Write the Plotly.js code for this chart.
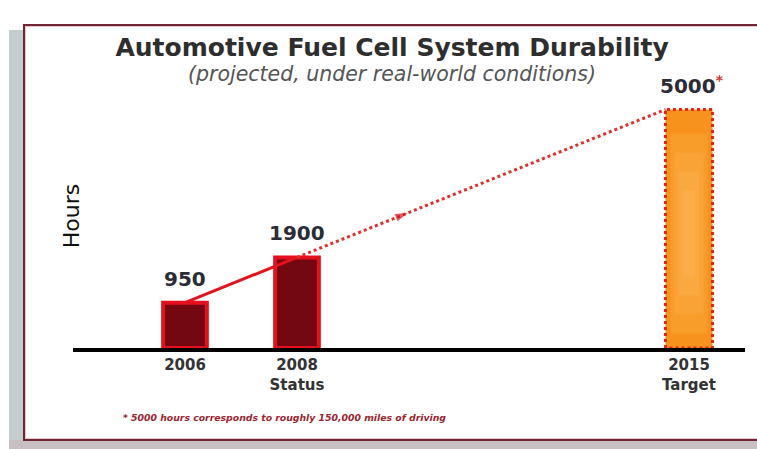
<!DOCTYPE html>
<html>
<head>
<meta charset="utf-8">
<script src="https://cdn.plot.ly/plotly-3.0.1.min.js"></script>
<style>
  html, body { margin: 0; padding: 0; width: 757px; height: 449px; overflow: hidden; background: #ffffff; }
  #shadowL { position: absolute; left: 9px; top: 30px; width: 16px; height: 419px; background: #c3cdcd; }
  #shadowB { position: absolute; left: 9px; top: 440px; width: 760px; height: 9px; background: #c8bfc2; }
  #frame { position: absolute; left: 23px; top: 24px; width: 760px; height: 413px; border: 2px solid #6e2733;
           background: #ffffff; box-shadow: inset 0 0 0 1px #ecc4ca; }
  #chart { position: absolute; left: 0; top: 0; width: 757px; height: 449px; }
</style>
</head>
<body>
<div id="shadowL"></div>
<div id="shadowB"></div>
<div id="frame"></div>
<div id="chart"></div>
<script>
// ---- data ----
const years = [2006, 2008, 2015];
const hours = [950, 1900, 5000];
const valueLabels = ['950', '1900', '5000'];
const tickLabels = ['2006', '2008<br>Status', '2015<br>Target'];
const titleText = 'Automotive Fuel Cell System Durability';
const subtitleText = '(projected, under real-world conditions)';
const yLabel = 'Hours';
const footnoteText = '* 5000 hours corresponds to roughly 150,000 miles of driving';

// ---- styling ----
const FONT = 'DejaVu Sans, Liberation Sans, Arial, sans-serif';
const statusWidth = 0.78;
const targetWidth = 0.84;

const statusX = years.slice(0, 2);
const statusY = hours.slice(0, 2);
const targetX = years[2];
const targetY = hours[2];

const tx0 = targetX - targetWidth / 2;
const tx1 = targetX + targetWidth / 2;

// dotted projection from 2008 to the target bar's top-left corner
const projX = [years[1], tx0];
const projY = [hours[1], targetY];
const arrowT = 0.3;
const arrowX = projX[0] + arrowT * (projX[1] - projX[0]);
const arrowY = projY[0] + arrowT * (projY[1] - projY[0]);

// soft glow layers inside the target bar (fractions of the bar)
const glowLayers = [
  { w: 0.80, b: 0.06, h: 0.84 },
  { w: 0.62, b: 0.14, h: 0.68 },
  { w: 0.44, b: 0.22, h: 0.52 },
  { w: 0.26, b: 0.30, h: 0.36 }
];

const traces = [
  {
    type: 'bar', x: statusX, y: statusY, width: statusWidth,
    marker: { color: '#740811', line: { color: '#e5101b', width: 4 } },
    hoverinfo: 'skip', showlegend: false
  },
  {
    type: 'bar', x: [targetX], y: [targetY], width: targetWidth,
    marker: { color: '#f7931c', line: { width: 0 } },
    hoverinfo: 'skip', showlegend: false
  }
];
glowLayers.forEach(g => traces.push({
  type: 'bar', x: [targetX], y: [targetY * g.h], base: [targetY * g.b], width: targetWidth * g.w,
  marker: { color: 'rgba(255,205,130,0.15)', line: { width: 0 } },
  hoverinfo: 'skip', showlegend: false
}));
traces.push(
  {
    type: 'scatter', mode: 'lines',
    x: [tx0, tx0, tx1, tx1, tx0], y: [0, targetY, targetY, 0, 0],
    line: { color: '#e2261c', width: 3, dash: 'dot' },
    hoverinfo: 'skip', showlegend: false
  },
  {
    type: 'scatter', mode: 'lines', x: statusX, y: statusY,
    line: { color: '#e3141c', width: 3 },
    hoverinfo: 'skip', showlegend: false
  },
  {
    type: 'scatter', mode: 'lines', x: projX, y: projY,
    line: { color: '#e0302a', width: 3, dash: 'dot' },
    hoverinfo: 'skip', showlegend: false
  },
  {
    type: 'scatter', mode: 'markers', x: [projX[0], arrowX], y: [projY[0], arrowY],
    marker: { symbol: 'arrow', angleref: 'previous', size: [0, 13], color: '#d8141c', line: { width: 0 } },
    hoverinfo: 'skip', showlegend: false
  }
);

const annotations = years.map((yr, i) => ({
  x: yr, y: hours[i], xref: 'x', yref: 'y',
  text: i === 2 ? valueLabels[i] + "<span style='color:#e0302a'><sup>*</sup></span>" : valueLabels[i],
  showarrow: false, xanchor: 'center', yanchor: 'bottom', yshift: 10, xshift: i === 2 ? 3 : 0,
  font: { family: FONT, size: 20, weight: 'bold', color: '#2c2c36' }
}));

annotations.push(
  { text: subtitleText, xref: 'paper', yref: 'paper', x: 0.475, y: 1.105, xanchor: 'center', yanchor: 'middle',
    showarrow: false, font: { family: FONT, size: 20.5, style: 'italic', color: '#555555' } },
  { text: yLabel, xref: 'paper', yref: 'paper', x: -0.002, y: 0.53, xanchor: 'center', yanchor: 'middle',
    textangle: -90, showarrow: false, font: { family: FONT, size: 22, color: '#111111' } },
  { text: footnoteText, xref: 'paper', yref: 'paper', x: 0.315, y: -0.282, xanchor: 'center', yanchor: 'middle',
    showarrow: false, font: { family: FONT, size: 9.3, weight: 'bold', style: 'italic', color: '#9a2630' } }
);

const layout = {
  width: 757, height: 449,
  margin: { l: 73, r: 12, t: 100, b: 101 },
  paper_bgcolor: 'rgba(0,0,0,0)', plot_bgcolor: 'rgba(0,0,0,0)',
  barmode: 'overlay',
  title: {
    text: titleText, x: 0.518, xanchor: 'center', y: 0.895, yanchor: 'middle',
    font: { family: FONT, size: 25, weight: 'bold', color: '#2e2e2e' }
  },
  xaxis: {
    range: [2004, 2016], tickvals: years, ticktext: tickLabels,
    showline: true, linecolor: '#000000', linewidth: 4, showgrid: false, zeroline: false,
    ticks: '', tickfont: { family: FONT, size: 15, weight: 'bold', color: '#333333' }
  },
  yaxis: {
    range: [0, 5200], showgrid: false, zeroline: false, showticklabels: false, showline: false, ticks: ''
  },
  annotations: annotations,
  showlegend: false
};

Plotly.newPlot('chart', traces, layout, { displayModeBar: false, staticPlot: true });
</script>
</body>
</html>
